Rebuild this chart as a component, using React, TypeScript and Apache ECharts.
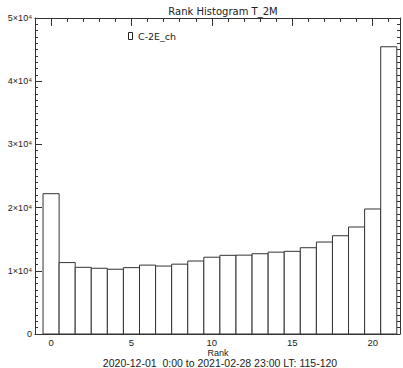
import React, { useEffect, useRef } from "react";
import * as echarts from "echarts";

const ranks = [0, 1, 2, 3, 4, 5, 6, 7, 8, 9, 10, 11, 12, 13, 14, 15, 16, 17, 18, 19, 20, 21];
const counts = [
  22200, 11300, 10550, 10400, 10250, 10500, 10900, 10750, 11050, 11550, 12150,
  12450, 12480, 12700, 12950, 13080, 13650, 14550, 15550, 16930, 19780, 45450,
];
const xMajorTicks = [0, 5, 10, 15, 20];
const xMinorTicks = ranks;
const yTickLabels = ["0", "1×10⁴", "2×10⁴", "3×10⁴", "4×10⁴", "5×10⁴"];
const legendName = "C-2E_ch";
const titleText = "Rank Histogram T_2M";
const xTitle = "Rank";
const footText = "2020-12-01  0:00 to 2021-02-28 23:00 LT: 115-120";

const FONT = "Liberation Sans";
const INK = "#222";
const LINE = "#333";

export default function App() {
  const ref = useRef<HTMLDivElement>(null);
  useEffect(() => {
    if (!ref.current) return;
    const chart = echarts.init(ref.current, null, { renderer: "svg" });
    const xBase = { type: "value", min: -1, max: 21.7, gridIndex: 0, splitLine: { show: false } };
    const yBase = { type: "value", min: 0, max: 50000, gridIndex: 0, splitLine: { show: false } };
    const axisLine = { show: true, onZero: false, lineStyle: { color: LINE, width: 1 } };
    const noLine = { show: false, onZero: false };
    const tick = (len: number, vals: number[]) => ({
      show: true,
      inside: true,
      length: len,
      customValues: vals,
      lineStyle: { color: LINE },
    });
    chart.setOption({
      animation: false,
      backgroundColor: "#fff",
      grid: { left: 35, top: 18, width: 365, height: 316, containLabel: false },
      title: {
        text: titleText,
        left: 218,
        textAlign: "center",
        top: 1,
        textStyle: { fontFamily: "DejaVu Sans", fontSize: 10, fontWeight: "normal", color: INK },
      },
      graphic: [
        {
          type: "rect",
          shape: { x: 128.5, y: 32.5, width: 4, height: 7 },
          style: { fill: "none", stroke: INK, lineWidth: 1 },
        },
        {
          type: "text",
          x: 138,
          y: 36,
          style: { text: legendName, fontFamily: "DejaVu Sans", fontSize: 9.5, fill: INK, verticalAlign: "middle" },
        },
        {
          type: "text",
          x: 218,
          y: 353,
          style: { text: xTitle, fontFamily: FONT, fontSize: 9, fill: INK, align: "center", verticalAlign: "middle" },
        },
        {
          type: "text",
          x: 220,
          y: 362.5,
          style: { text: footText, fontFamily: FONT, fontSize: 10.5, fill: INK, align: "center", verticalAlign: "middle" },
        },
      ],
      xAxis: [
        {
          ...xBase,
          position: "bottom",
          axisLine,
          axisTick: tick(8, xMajorTicks),
          axisLabel: {
            show: true,
            customValues: xMajorTicks,
            margin: 3,
            fontFamily: FONT,
            fontSize: 9.5,
            color: INK,
          },
        },
        {
          ...xBase,
          position: "bottom",
          axisLine: noLine,
          axisTick: tick(4, xMinorTicks),
          axisLabel: { show: false },
        },
        {
          ...xBase,
          position: "top",
          axisLine,
          axisTick: tick(8, xMajorTicks),
          axisLabel: { show: false },
        },
        {
          ...xBase,
          position: "top",
          axisLine: noLine,
          axisTick: tick(4, xMinorTicks),
          axisLabel: { show: false },
        },
      ],
      yAxis: [
        {
          ...yBase,
          interval: 10000,
          position: "left",
          axisLine,
          axisTick: { show: true, inside: true, length: 7, lineStyle: { color: LINE } },
          axisLabel: {
            show: true,
            margin: 3,
            fontFamily: FONT,
            fontSize: 9,
            color: INK,
            formatter: (v: number) => yTickLabels[Math.round(v / 10000)] ?? "",
          },
        },
        {
          ...yBase,
          interval: 1000,
          position: "left",
          axisLine: noLine,
          axisTick: { show: true, inside: true, length: 3, lineStyle: { color: LINE } },
          axisLabel: { show: false },
        },
        {
          ...yBase,
          interval: 10000,
          position: "right",
          axisLine,
          axisTick: { show: true, inside: true, length: 7, lineStyle: { color: LINE } },
          axisLabel: { show: false },
        },
        {
          ...yBase,
          interval: 1000,
          position: "right",
          axisLine: noLine,
          axisTick: { show: true, inside: true, length: 3, lineStyle: { color: LINE } },
          axisLabel: { show: false },
        },
      ],
      series: [
        {
          type: "custom",
          xAxisIndex: 0,
          yAxisIndex: 0,
          data: ranks.map((r, i) => [r, counts[i]]),
          renderItem: (params: any, api: any) => {
            const x = api.value(0);
            const v = api.value(1);
            const p0 = api.coord([x - 0.5, v]);
            const p1 = api.coord([x + 0.5, 0]);
            return {
              type: "rect",
              shape: { x: p0[0], y: p0[1], width: p1[0] - p0[0], height: p1[1] - p0[1] },
              style: { fill: "#fff", stroke: LINE, lineWidth: 1 },
            };
          },
        },
      ],
    });
    return () => chart.dispose();
  }, []);
  return (
    <div
      ref={ref}
      style={{ position: "fixed", left: 0, top: 0, width: 403, height: 368, background: "#fff" }}
    />
  );
}
